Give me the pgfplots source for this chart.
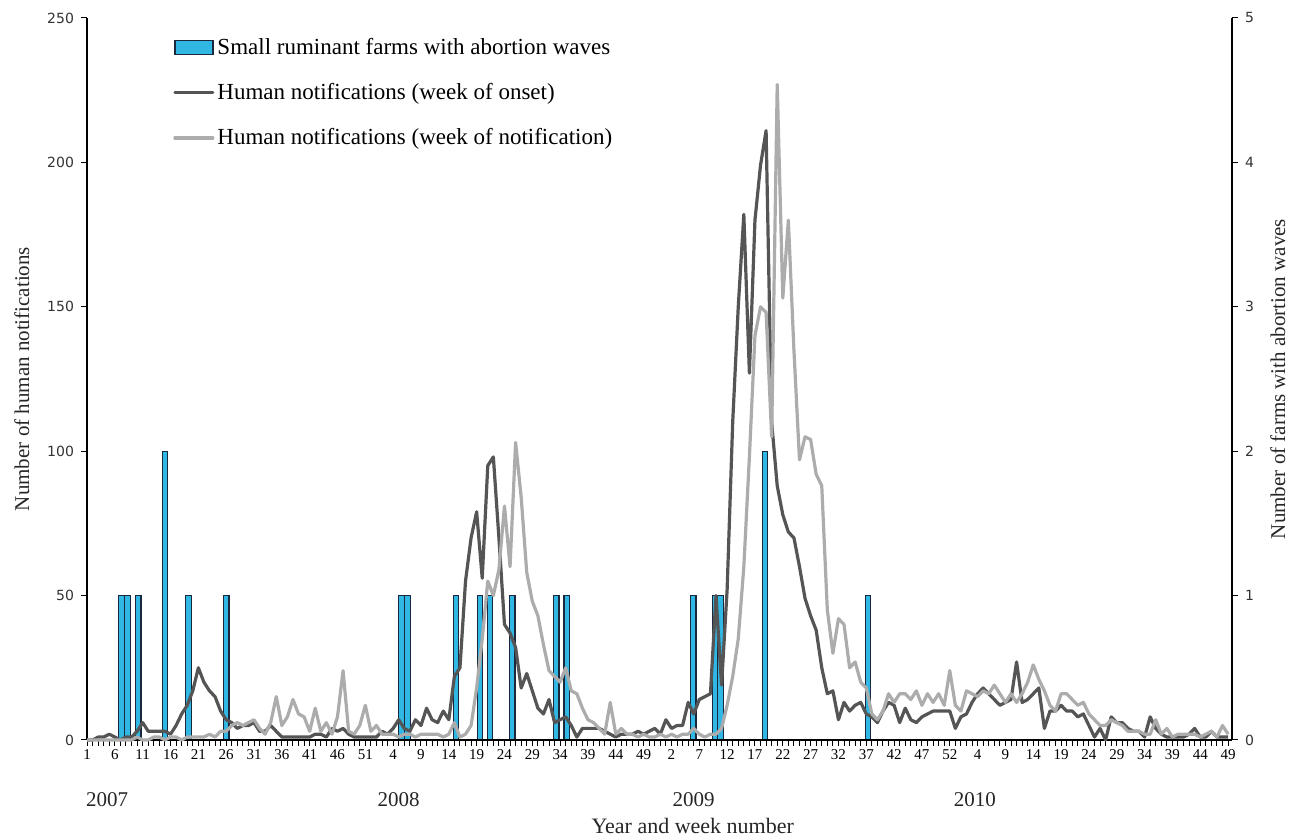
\documentclass[border=0pt]{standalone}
\usepackage{pgfplots}
\pgfplotsset{compat=1.18}
\usepackage{fontspec}
\setmainfont{Liberation Serif}
\newfontfamily\tickfont{DejaVu Sans}
\definecolor{barblue}{RGB}{49,183,228}
\definecolor{bardraw}{RGB}{25,40,60}
\definecolor{onset}{RGB}{85,85,85}
\definecolor{notif}{RGB}{172,172,172}
\pgfplotsset{
  linelegend/.style={legend image code/.code={\draw[##1, line cap=round] (0pt,0pt) -- (19pt,0pt);}},
  barlegend/.style={legend image code/.code={\draw[##1] (0pt,-3.5pt) rectangle (19pt,3.5pt);}},
  common/.style={
    width=572.5pt, height=361pt, scale only axis,
    xmin=0, xmax=205.7,
    tick align=outside,
    axis line style={line width=0.6pt, black},
    every tick/.style={black, line width=0.5pt},
    major tick length=3pt, minor tick length=3pt,
    /pgf/number format/assume math mode=true,
    yticklabel style={font=\tickfont\fontsize{7}{8}\selectfont, color=black!80},
  }
}
\begin{document}
\begin{tikzpicture}
% ---------- right axis: farms with abortion waves (bars)
\begin{axis}[common,
  axis y line*=right, axis x line=none,
  ymin=0, ymax=5, ytick={0,1,2,3,4,5},
  ylabel={Number of farms with abortion waves},
  every axis y label/.style={at={(axis description cs:1.040,0.5)}, rotate=90, anchor=center, inner sep=0pt, font=\fontsize{10.5}{12}\selectfont, color=black!85},
]
\addplot[ybar, bar width=1, fill=barblue, draw=bardraw, line width=0.6pt] coordinates {
(6.2,1)(7.3,1)(9.2,1)(14,2)(18.2,1)(25,1)
(56.5,1)(57.6,1)(66.3,1)(70.6,1)(72.4,1)(76.4,1)(84.3,1)(86.2,1)
(108.9,1)(112.8,1)(113.8,1)(121.8,2)(140.3,1)
};
\end{axis}
% ---------- left axis: human notifications (lines)
\begin{axis}[common,
  axis y line*=left, axis x line*=bottom,
  ymin=0, ymax=250, ytick={0,50,100,150,200,250},
  xtick={0,5,...,205},
  xticklabels={1,6,11,16,21,26,31,36,41,46,51,4,9,14,19,24,29,34,39,44,49,2,7,12,17,22,27,32,37,42,47,52,4,9,14,19,24,29,34,39,44,49},
  minor x tick num=4,
  xticklabel style={font=\fontsize{7.5}{8}\selectfont, inner sep=1.5pt},
  ylabel={Number of human notifications},
  every axis y label/.style={at={(axis description cs:-0.057,0.5)}, rotate=90, anchor=center, font=\fontsize{10.5}{12}\selectfont, color=black!85},
  xlabel={Year and week number},
  every axis x label/.style={at={(axis description cs:0.529,0)}, anchor=center, yshift=-43pt, font=\fontsize{11}{12}\selectfont, color=black!85},
  clip=false,
  legend style={at={(axis description cs:0.075,0.977)}, anchor=north west, draw=none, fill=none,
    font=\fontsize{11.5}{13}\selectfont, row sep=10pt, inner sep=0pt, nodes={inner sep=1.5pt}},
  legend cell align=left,
]
\addlegendimage{fill=barblue, draw=bardraw, line width=0.7pt, barlegend}
\addlegendentry{Small ruminant farms with abortion waves}
\addplot[onset, line width=1.6pt, line join=round, linelegend] coordinates {
(0,0)(1,0)(2,1)(3,1)(4,2)(5,1)(6,0)(7,1)(8,1)(9,3)
(10,6)(11,3)(12,3)(13,3)(14,3)(15,2)(16,5)(17,9)(18,12)(19,17)
(20,25)(21,20)(22,17)(23,15)(24,10)(25,7)(26,6)(27,4)(28,5)(29,5)
(30,6)(31,3)(32,3)(33,5)(34,3)(35,1)(36,1)(37,1)(38,1)(39,1)
(40,1)(41,2)(42,2)(43,1)(44,4)(45,3)(46,4)(47,2)(48,1)(49,1)
(50,1)(51,1)(52,1)(53,3)(54,2)(55,4)(56,7)(57,4)(58,3)(59,7)
(60,5)(61,11)(62,7)(63,6)(64,10)(65,7)(66,22)(67,25)(68,55)(69,70)
(70,79)(71,56)(72,95)(73,98)(74,70)(75,40)(76,37)(77,32)(78,18)(79,23)
(80,17)(81,11)(82,9)(83,14)(84,6)(85,7)(86,8)(87,5)(88,1)(89,4)
(90,4)(91,4)(92,4)(93,3)(94,2)(95,1)(96,2)(97,2)(98,2)(99,3)
(100,2)(101,3)(102,4)(103,2)(104,7)(105,4)(106,5)(107,5)(108,13)(109,9)
(110,14)(111,15)(112,16)(113,50)(114,19)(115,52)(116,110)(117,150)(118,182)(119,127)
(120,180)(121,199)(122,211)(123,110)(124,88)(125,78)(126,72)(127,70)(128,60)(129,49)
(130,43)(131,38)(132,25)(133,16)(134,17)(135,7)(136,13)(137,10)(138,12)(139,13)
(140,9)(141,8)(142,6)(143,10)(144,13)(145,12)(146,6)(147,11)(148,7)(149,6)
(150,8)(151,9)(152,10)(153,10)(154,10)(155,10)(156,4)(157,8)(158,9)(159,13)
(160,16)(161,18)(162,16)(163,14)(164,12)(165,13)(166,14)(167,27)(168,13)(169,14)
(170,16)(171,18)(172,4)(173,10)(174,10)(175,12)(176,10)(177,10)(178,8)(179,9)
(180,5)(181,1)(182,4)(183,0)(184,8)(185,6)(186,6)(187,4)(188,3)(189,3)
(190,1)(191,8)(192,4)(193,2)(194,1)(195,1)(196,1)(197,1)(198,2)(199,4)
(200,1)(201,1)(202,3)(203,1)(204,1)(205,1)
};
\addlegendentry{Human notifications (week of onset)}
\addplot[notif, line width=1.6pt, line join=round, linelegend] coordinates {
(0,0)(1,0)(2,0)(3,0)(4,0)(5,0)(6,0)(7,0)(8,0)(9,1)
(10,0)(11,0)(12,1)(13,1)(14,0)(15,1)(16,1)(17,0)(18,1)(19,1)
(20,1)(21,1)(22,2)(23,1)(24,3)(25,3)(26,5)(27,6)(28,5)(29,6)
(30,7)(31,4)(32,2)(33,6)(34,15)(35,5)(36,8)(37,14)(38,9)(39,8)
(40,3)(41,11)(42,3)(43,6)(44,2)(45,8)(46,24)(47,3)(48,2)(49,5)
(50,12)(51,3)(52,5)(53,2)(54,2)(55,2)(56,1)(57,2)(58,2)(59,1)
(60,2)(61,2)(62,2)(63,2)(64,1)(65,2)(66,6)(67,1)(68,2)(69,5)
(70,18)(71,35)(72,55)(73,50)(74,59)(75,81)(76,60)(77,103)(78,84)(79,58)
(80,48)(81,43)(82,33)(83,24)(84,22)(85,20)(86,25)(87,17)(88,16)(89,11)
(90,7)(91,6)(92,4)(93,2)(94,13)(95,2)(96,4)(97,2)(98,2)(99,1)
(100,2)(101,1)(102,1)(103,2)(104,1)(105,2)(106,1)(107,2)(108,2)(109,4)
(110,2)(111,1)(112,2)(113,2)(114,4)(115,12)(116,22)(117,35)(118,60)(119,98)
(120,140)(121,150)(122,148)(123,105)(124,227)(125,153)(126,180)(127,135)(128,97)(129,105)
(130,104)(131,92)(132,88)(133,45)(134,30)(135,42)(136,40)(137,25)(138,27)(139,20)
(140,18)(141,9)(142,7)(143,10)(144,16)(145,13)(146,16)(147,16)(148,14)(149,17)
(150,12)(151,16)(152,13)(153,16)(154,12)(155,24)(156,12)(157,10)(158,17)(159,16)
(160,15)(161,17)(162,16)(163,19)(164,16)(165,13)(166,16)(167,13)(168,16)(169,20)
(170,26)(171,21)(172,17)(173,12)(174,10)(175,16)(176,16)(177,14)(178,12)(179,13)
(180,9)(181,7)(182,5)(183,5)(184,7)(185,6)(186,5)(187,3)(188,3)(189,3)
(190,2)(191,2)(192,7)(193,2)(194,4)(195,1)(196,2)(197,2)(198,2)(199,2)
(200,1)(201,2)(202,3)(203,1)(204,5)(205,2)
};
\addlegendentry{Human notifications (week of notification)}
\node[font=\fontsize{10.5}{12}\selectfont, color=black!85] at (axis cs:3.6,0) [yshift=-30pt] {2007};
\node[font=\fontsize{10.5}{12}\selectfont, color=black!85] at (axis cs:56,0) [yshift=-30pt] {2008};
\node[font=\fontsize{10.5}{12}\selectfont, color=black!85] at (axis cs:109,0) [yshift=-30pt] {2009};
\node[font=\fontsize{10.5}{12}\selectfont, color=black!85] at (axis cs:159.5,0) [yshift=-30pt] {2010};
\coordinate (bbSW) at (axis description cs:-0.076,-0.133);
\coordinate (bbNE) at (axis description cs:1.0533,1.0249);
\end{axis}
\pgfresetboundingbox
\path[use as bounding box] (bbSW) rectangle (bbNE);
\end{tikzpicture}
\end{document}
